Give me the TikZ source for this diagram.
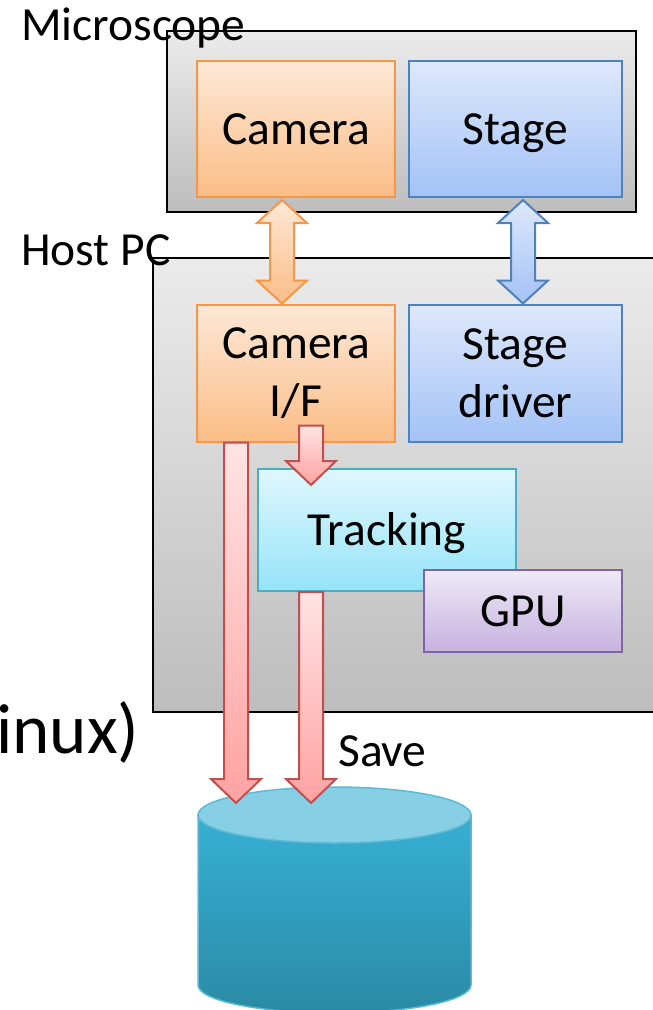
\documentclass[tikz,border=0pt]{standalone}
\usepackage{fontspec}
\setmainfont{Carlito}
\usetikzlibrary{calc}
\definecolor{graytop}{HTML}{EBEBEB}
\definecolor{graybot}{HTML}{BDBDBD}
\definecolor{orgline}{HTML}{F79646}
\definecolor{orgtop}{HTML}{FDE8D6}
\definecolor{orgbot}{HTML}{FBBD87}
\definecolor{bluline}{HTML}{4F81BD}
\definecolor{blutop}{HTML}{DDE8FB}
\definecolor{blubot}{HTML}{A3C2F6}
\definecolor{cyaline}{HTML}{4BACC6}
\definecolor{cyatop}{HTML}{DFF7FD}
\definecolor{cyabot}{HTML}{95E4F8}
\definecolor{purline}{HTML}{8064A2}
\definecolor{purtop}{HTML}{EEE9F6}
\definecolor{purbot}{HTML}{C6B2DF}
\definecolor{redline}{HTML}{C0504D}
\definecolor{redtop}{HTML}{FFE3E3}
\definecolor{redbot}{HTML}{FFA2A2}
\definecolor{cylcap}{HTML}{86CFE4}
\definecolor{cyltop}{HTML}{37B0D3}
\definecolor{cylbot}{HTML}{2A8AA5}
\definecolor{cylline}{HTML}{5BBAD6}
\newcommand\blockdown[3]{%
  \path[#3] let \p1=(#1), \p2=(#2) in
    (\x1-12pt,\y1) -- (\x1+12pt,\y1) -- (\x1+12pt,\y2+24pt) -- (\x1+25pt,\y2+24pt)
    -- (\x2,\y2) -- (\x1-25pt,\y2+24pt) -- (\x1-12pt,\y2+24pt) -- cycle;}
\newcommand\blockboth[3]{%
  \path[#3] let \p1=(#1), \p2=(#2) in
    (\x1,\y1) -- (\x1+25pt,\y1-23pt) -- (\x1+12pt,\y1-23pt) -- (\x1+12pt,\y2+23pt)
    -- (\x1+25pt,\y2+23pt) -- (\x2,\y2) -- (\x1-25pt,\y2+23pt) -- (\x1-12pt,\y2+23pt)
    -- (\x1-12pt,\y1-23pt) -- (\x1-25pt,\y1-23pt) -- cycle;}
\tikzset{
  every node/.style={font=\fontsize{47.5}{58}\selectfont, inner sep=0pt},
  grayfrm/.style={draw=black, line width=2pt, top color=graytop, bottom color=graybot},
  box/.style={line width=2pt, align=center},
  orangebox/.style={box, draw=orgline, top color=orgtop, bottom color=orgbot},
  bluebox/.style={box, draw=bluline, top color=blutop, bottom color=blubot},
  cyanbox/.style={box, draw=cyaline, top color=cyatop, bottom color=cyabot},
  purplebox/.style={box, draw=purline, top color=purtop, bottom color=purbot},
  onetext/.style={text height=30pt, text depth=0pt},
  redarrow/.style={draw=redline, line width=2pt, top color=redtop, bottom color=redbot},
  orgarrow/.style={draw=orgline, line width=2pt, top color=orgtop, bottom color=orgbot},
  bluarrow/.style={draw=bluline, line width=2pt, top color=blutop, bottom color=blubot},
  label/.style={anchor=base west},
}
\begin{document}
\begin{tikzpicture}[x=1pt,y=-1pt]
\useasboundingbox (0,0) rectangle (653,1010);
% Microscope
\node[grayfrm, minimum width=469pt, minimum height=181pt] (micro) at (401.5,121.5) {};
\node[orangebox, onetext, minimum width=198pt, minimum height=136pt] (cam) at (296,129) {Camera};
\node[bluebox, onetext, minimum width=213pt, minimum height=136pt] (stage) at (515.5,129) {Stage};
\node[label] (microlbl) at (21,40) {Microscope};
% Host PC
\node[grayfrm, minimum width=527pt, minimum height=454pt] (host) at (416.5,485) {};
\node[label] (hostlbl) at (21,265) {Host PC};
\node[orangebox, minimum width=198pt, minimum height=137pt] (camif) at (296,373) {Camera\\I/F};
\node[bluebox, minimum width=213pt, minimum height=137pt] (stdrv) at (515.5,373) {Stage\\driver};
\node[cyanbox, onetext, minimum width=258pt, minimum height=122pt] (track) at (387,530) {Tracking};
\node[purplebox, onetext, minimum width=198pt, minimum height=82pt] (gpu) at (523,611) {GPU};
% double arrows
\coordinate (ox) at (282,0);
\coordinate (bx) at (523,0);
\blockboth{$(cam.south -| ox)+(0,2)$}{camif.north -| ox}{orgarrow}
\blockboth{$(stage.south -| bx)+(0,2)$}{stdrv.north -| bx}{bluarrow}
% storage cylinder
\path[top color=cyltop, bottom color=cylbot, draw=cylline, line width=1.5pt]
  (198,815) -- (198,985) arc[start angle=180, end angle=0, x radius=136.5, y radius=28]
  -- (471,815) -- cycle;
\path[fill=cylcap, draw=cylline, line width=1.5pt] (334.5,815) ellipse [x radius=136.5, y radius=28];
\coordinate (dbtop) at (334.5,803);
% red arrows
\coordinate (r1x) at (236,0);
\coordinate (r2x) at (311,0);
\blockdown{camif.south -| r1x}{r1x |- dbtop}{redarrow}
\blockdown{$(camif.south -| r2x)+(0,-17)$}{$(track.north -| r2x)+(0,17)$}{redarrow}
\blockdown{track.south -| r2x}{r2x |- dbtop}{redarrow}
\node[label] (savelbl) at (338,766) {Save};
\node[label, font=\fontsize{71}{76}\selectfont] (oslbl) at (-4,753) {inux)};
\end{tikzpicture}
\end{document}
